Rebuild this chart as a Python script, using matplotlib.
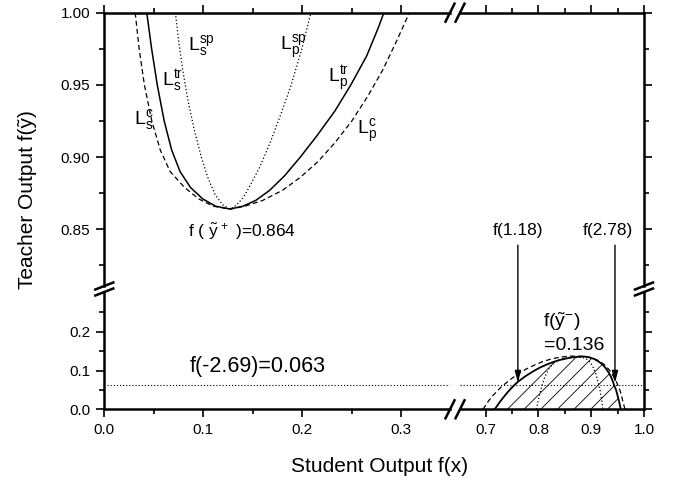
import matplotlib
matplotlib.use("Agg")
import matplotlib.pyplot as plt
from matplotlib.lines import Line2D

plt.rcParams['font.family'] = ['Liberation Sans', 'DejaVu Sans']
plt.rcParams['mathtext.fontset'] = 'custom'
plt.rcParams['mathtext.rm'] = 'Liberation Sans'
plt.rcParams['mathtext.it'] = 'Liberation Sans:italic'
plt.rcParams['hatch.linewidth'] = 0.6

# ---------------- data ----------------
# upper part: teacher output ~0.86..1.0
c_top_x = [0.0312, 0.0352, 0.0405, 0.0480, 0.0565, 0.0665, 0.0810, 0.0955, 0.1100, 0.1270,
           0.1420, 0.1600, 0.1800, 0.1980, 0.2160, 0.2330, 0.2500, 0.2660, 0.2810, 0.2950,
           0.3082]
c_top_y = [1.000, 0.975, 0.950, 0.925, 0.905, 0.890, 0.879, 0.871, 0.866, 0.864,
           0.866, 0.870, 0.877, 0.886, 0.897, 0.910, 0.925, 0.942, 0.960, 0.980,
           1.000]
tr_top_x = [0.0429, 0.0478, 0.0535, 0.0605, 0.0680, 0.0765, 0.0870, 0.0995, 0.1125, 0.1270,
            0.1400, 0.1530, 0.1670, 0.1820, 0.1980, 0.2150, 0.2330, 0.2490, 0.2650, 0.2770,
            0.2824]
tr_top_y = [1.000, 0.975, 0.950, 0.925, 0.905, 0.890, 0.879, 0.871, 0.866, 0.864,
            0.866, 0.870, 0.877, 0.887, 0.900, 0.915, 0.932, 0.950, 0.970, 0.990,
            1.000]
sp_top_x = [0.0718, 0.0752, 0.0793, 0.0843, 0.0905, 0.0980, 0.1050, 0.1120, 0.1195, 0.1270,
            0.1330, 0.1405, 0.1470, 0.1570, 0.1675, 0.1785, 0.1888, 0.1995, 0.2087]
sp_top_y = [1.000, 0.980, 0.960, 0.940, 0.920, 0.900, 0.885, 0.874, 0.867, 0.864,
            0.8665, 0.872, 0.880, 0.893, 0.910, 0.930, 0.950, 0.975, 1.000]

# lower part: teacher output ~0..0.14
tr_low_x = [0.717, 0.728, 0.739, 0.750, 0.761, 0.775, 0.789, 0.802, 0.815, 0.828, 0.840,
            0.853, 0.865, 0.877, 0.887, 0.896, 0.905, 0.913, 0.921, 0.928, 0.934, 0.939,
            0.943, 0.947, 0.950, 0.953, 0.956]
tr_low_y = [0.000, 0.021, 0.040, 0.057, 0.071, 0.085, 0.097, 0.107, 0.115, 0.122, 0.127,
            0.131, 0.134, 0.1355, 0.136, 0.134, 0.130, 0.124, 0.116, 0.105, 0.093, 0.079,
            0.064, 0.050, 0.035, 0.019, 0.000]
c_low_x = [0.695, 0.704, 0.714, 0.729, 0.745, 0.761, 0.777, 0.794, 0.810, 0.828, 0.845,
           0.860, 0.875, 0.888, 0.900, 0.913, 0.925, 0.934, 0.942, 0.948, 0.953, 0.957,
           0.960, 0.962, 0.964]
c_low_y = [0.000, 0.019, 0.036, 0.057, 0.075, 0.091, 0.104, 0.115, 0.124, 0.131, 0.135,
           0.137, 0.137, 0.136, 0.133, 0.126, 0.115, 0.102, 0.085, 0.070, 0.054, 0.038,
           0.020, 0.010, 0.000]
sp_low_x = [0.796, 0.798, 0.800, 0.803, 0.807, 0.812, 0.819, 0.827, 0.836, 0.845, 0.855,
            0.865, 0.875, 0.885, 0.893, 0.899, 0.904, 0.909, 0.913, 0.917, 0.920, 0.922]
sp_low_y = [0.000, 0.013, 0.025, 0.042, 0.062, 0.083, 0.103, 0.117, 0.125, 0.130, 0.133,
            0.134, 0.1345, 0.133, 0.128, 0.120, 0.107, 0.090, 0.070, 0.047, 0.023, 0.000]

threshold = 0.063
arrow_x = [0.761, 0.945]
arrow_labels = ['f(1.18)', 'f(2.78)']
arrow_label_x = [0.7612, 0.9307]

x_left_ticks = [0.0, 0.1, 0.2, 0.3]
x_right_ticks = [0.7, 0.8, 0.9, 1.0]
y_top_ticks = [0.85, 0.90, 0.95, 1.00]
y_low_ticks = [0.0, 0.1, 0.2]

# ---------------- layout ----------------
W, H = 677, 483
fig = plt.figure(figsize=(W / 100, H / 100), dpi=100)

def fx(px):
    return px / W

def fy(py):
    return 1 - py / H

xl0, xl1, xr0, xr1 = 104.3, 450, 460, 644
yt0, yt1, yb0, yb1 = 12.7, 286, 292, 409.3

ax_tl = fig.add_axes([fx(xl0), fy(yt1), fx(xl1) - fx(xl0), fy(yt0) - fy(yt1)])
ax_tr = fig.add_axes([fx(xr0), fy(yt1), fx(xr1) - fx(xr0), fy(yt0) - fy(yt1)])
ax_bl = fig.add_axes([fx(xl0), fy(yb1), fx(xl1) - fx(xl0), fy(yb0) - fy(yb1)])
ax_br = fig.add_axes([fx(xr0), fy(yb1), fx(xr1) - fx(xr0), fy(yb0) - fy(yb1)])

xl_lim = (0.0, (xl1 - xl0) / 990)
xr_lim = (0.7 - (485.7 - xr0) / 528, 1.0)
yt_lim = (0.85 - (yt1 - 229.3) / 1444, 1.0)
yb_lim = (0.0, (yb1 - yb0) / 388)

lw_sp = 1.8
for ax in (ax_tl, ax_tr, ax_bl, ax_br):
    ax.patch.set_alpha(0)
    for s in ax.spines.values():
        s.set_linewidth(lw_sp)
    ax.tick_params(which='both', direction='out', width=1.2, labelsize=11, pad=4)
    ax.tick_params(which='major', length=6)
    ax.tick_params(which='minor', length=3.5)

# top-left
ax_tl.set_xlim(*xl_lim); ax_tl.set_ylim(*yt_lim)
ax_tl.spines['bottom'].set_visible(False); ax_tl.spines['right'].set_visible(False)
ax_tl.tick_params(which='both', bottom=False, labelbottom=False, top=True, left=True)
ax_tl.set_xticks(x_left_ticks); ax_tl.set_xticks([0.05, 0.15, 0.25], minor=True)
ax_tl.set_yticks(y_top_ticks); ax_tl.set_yticks([0.825, 0.875, 0.925, 0.975], minor=True)
ax_tl.set_yticklabels([f'{v:.2f}' for v in y_top_ticks])

# top-right
ax_tr.set_xlim(*xr_lim); ax_tr.set_ylim(*yt_lim)
ax_tr.spines['bottom'].set_visible(False); ax_tr.spines['left'].set_visible(False)
ax_tr.tick_params(which='both', bottom=False, labelbottom=False, top=True, left=False,
                  labelleft=False, right=True)
ax_tr.set_xticks(x_right_ticks); ax_tr.set_xticks([0.75, 0.85, 0.95], minor=True)
ax_tr.set_yticks(y_top_ticks); ax_tr.set_yticks([0.825, 0.875, 0.925, 0.975], minor=True)

# bottom-left
ax_bl.set_xlim(*xl_lim); ax_bl.set_ylim(*yb_lim)
ax_bl.spines['top'].set_visible(False); ax_bl.spines['right'].set_visible(False)
ax_bl.set_xticks(x_left_ticks); ax_bl.set_xticks([0.05, 0.15, 0.25], minor=True)
ax_bl.set_yticks(y_low_ticks); ax_bl.set_yticks([0.05, 0.15, 0.25], minor=True)
ax_bl.set_xticklabels([f'{v:.1f}' for v in x_left_ticks])
ax_bl.set_yticklabels([f'{v:.1f}' for v in y_low_ticks])

# bottom-right
ax_br.set_xlim(*xr_lim); ax_br.set_ylim(*yb_lim)
ax_br.spines['top'].set_visible(False); ax_br.spines['left'].set_visible(False)
ax_br.tick_params(which='both', left=False, labelleft=False, right=True)
ax_br.set_xticks(x_right_ticks); ax_br.set_xticks([0.75, 0.85, 0.95], minor=True)
ax_br.set_yticks(y_low_ticks); ax_br.set_yticks([0.05, 0.15, 0.25], minor=True)
ax_br.set_xticklabels([f'{v:.1f}' for v in x_right_ticks])

dash = (0, (4, 2.5))
dot = (0, (1, 1.8))

# upper curves
ax_tl.plot(c_top_x, c_top_y, color='k', lw=0.9, ls=dash)
ax_tl.plot(tr_top_x, tr_top_y, color='k', lw=1.1)
ax_tl.plot(sp_top_x, sp_top_y, color='k', lw=0.9, ls=dot)

# lower curves
ax_br.fill_between(tr_low_x, 0, tr_low_y, facecolor='none', edgecolor='k',
                   hatch='//', linewidth=0)
ax_br.plot(c_low_x, c_low_y, color='k', lw=0.9, ls=dash)
ax_br.plot(sp_low_x, sp_low_y, color='k', lw=0.9, ls=dot)
ax_br.plot(tr_low_x, tr_low_y, color='k', lw=1.3)

# threshold line
ax_bl.axhline(threshold, color='k', lw=0.8, ls=dot, xmin=0.008)
ax_br.axhline(threshold, color='k', lw=0.8, ls=dot)

# arrows
for xa, lab, xt in zip(arrow_x, arrow_labels, arrow_label_x):
    ax_br.annotate('', xy=(xa, 0.068), xycoords='data', xytext=(xa, 0.839),
                   textcoords=ax_tr.transData, annotation_clip=False,
                   arrowprops=dict(arrowstyle='-|>,head_length=0.7,head_width=0.18',
                                   color='k', lw=1.0, shrinkA=0, shrinkB=0))
    ax_tr.text(xt, 0.849, lab, ha='center', va='center', fontsize=12.5)

# labels on curves
ax_tl.text(0.0845, 0.9766, r'$\mathrm{L_s^{sp}}$', ha='left', va='center', fontsize=14)
ax_tl.text(0.0584, 0.9527, r'$\mathrm{L_s^{tr}}$', ha='left', va='center', fontsize=14)
ax_tl.text(0.0300, 0.9260, r'$\mathrm{L_s^{c}}$', ha='left', va='center', fontsize=14)
ax_tl.text(0.1775, 0.9766, r'$\mathrm{L_p^{sp}}$', ha='left', va='center', fontsize=14)
ax_tl.text(0.2259, 0.9544, r'$\mathrm{L_p^{tr}}$', ha='left', va='center', fontsize=14)
ax_tl.text(0.2553, 0.9184, r'$\mathrm{L_p^{c}}$', ha='left', va='center', fontsize=14)

ax_tl.text(0.0845, 0.8481, r'f ( $\mathrm{\tilde{y}^{\,+}}$ )=0.864', ha='left',
           va='center', fontsize=12.5)
ax_bl.text(0.0866, 0.110, 'f(-2.69)=0.063', ha='left', va='center', fontsize=15.5)
ax_br.text(0.808, 0.225, r'f($\mathrm{\tilde{y}^{-}}$)', ha='left', va='center', fontsize=14)
ax_br.text(0.810, 0.164, '=0.136', ha='left', va='center', fontsize=14)

# axis titles
fig.text(fx(380), fy(466), 'Student Output f(x)', ha='center', va='center', fontsize=15)
fig.text(fx(27.5), fy(200), 'Teacher Output f(ỹ)', ha='center', va='center',
         rotation=90, fontsize=15)

# break marks
def mark(p0, p1):
    fig.add_artist(Line2D([fx(p0[0]), fx(p1[0])], [fy(p0[1]), fy(p1[1])],
                          transform=fig.transFigure, color='k', lw=1.8))

for ybase in (yb1, yt0):
    mark((xl1 - 4.5, ybase + 9), (xl1 + 4.5, ybase - 9))
    mark((xr0 - 4.5, ybase + 9), (xr0 + 4.5, ybase - 9))
for xbase in (xl0, xr1):
    mark((xbase - 9, yt1 + 3.5), (xbase + 9, yt1 - 3.5))
    mark((xbase - 9, yb0 + 3.5), (xbase + 9, yb0 - 3.5))

fig.savefig('out.png', dpi=100)
